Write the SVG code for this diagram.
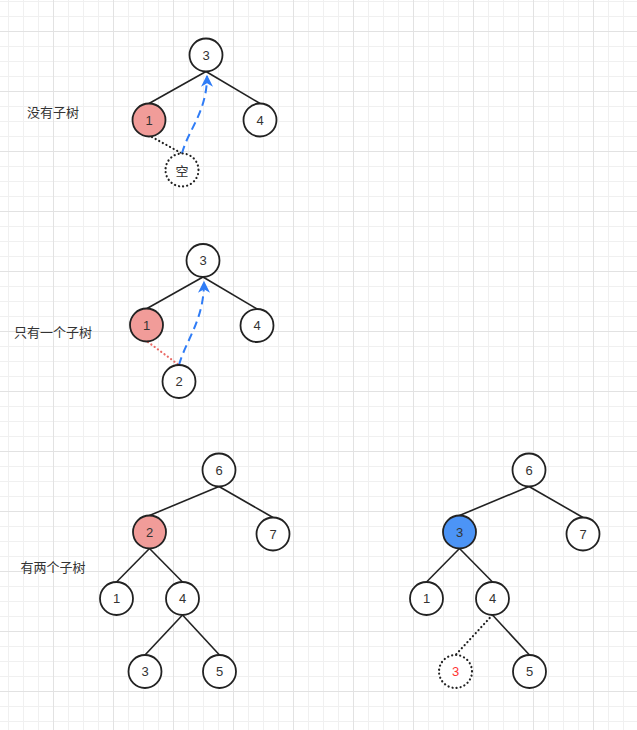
<svg xmlns="http://www.w3.org/2000/svg" width="637" height="730" viewBox="0 0 637 730">
<defs>
<pattern id="minor" width="15" height="15" patternUnits="userSpaceOnUse" x="8" y="1">
<path d="M0.5 0V15M0 0.5H15" stroke="#f0f0f0" stroke-width="1" fill="none"/>
</pattern>
<pattern id="major" width="60" height="60" patternUnits="userSpaceOnUse" x="53" y="31">
<path d="M0.5 0V60M0 0.5H60" stroke="#e2e2e2" stroke-width="1" fill="none"/>
</pattern>
<marker id="arr" viewBox="0 0 10 10" refX="9" refY="5" markerWidth="6" markerHeight="6" orient="auto" markerUnits="strokeWidth">
<path d="M0,0 L10,5 L0,10 L3,5 z" fill="#2f7cf6"/>
</marker>
<style>
.n{fill:#fff;stroke:#222;stroke-width:1.8}
.pink{fill:#f19c99}
.blue{fill:#4c94f6}
.dot{fill:#fff;stroke:#222;stroke-width:2.2;stroke-dasharray:0.1 4;stroke-linecap:round}
.t{font-family:"Liberation Sans","Noto Sans CJK SC",sans-serif;font-size:13px;fill:#333;text-anchor:middle;dominant-baseline:central}
.lbl{font-family:"Noto Sans CJK SC","Liberation Sans",sans-serif;font-size:13px;fill:#333;text-anchor:middle;dominant-baseline:central}
.e{stroke:#222;stroke-width:1.6;fill:none}
.ed{stroke:#222;stroke-width:2.2;fill:none;stroke-dasharray:0.1 4;stroke-linecap:round}
.er{stroke:#ea6b66;stroke-width:2.2;fill:none;stroke-dasharray:0.1 4;stroke-linecap:round}
.eb{stroke:#2f7cf6;stroke-width:2;fill:none;stroke-dasharray:8 5}
</style>
</defs>
<rect width="637" height="730" fill="#fff"/>
<rect width="637" height="730" fill="url(#minor)"/>
<rect width="637" height="730" fill="url(#major)"/>

<g id="labels">
<text class="lbl" x="53" y="111.5">没有子树</text>
<text class="lbl" x="53" y="331.5">只有一个子树</text>
<text class="lbl" x="53" y="566.5">有两个子树</text>
</g>

<g id="connectors">
<line class="e" x1="206" y1="71.5" x2="149" y2="103.5"/>
<line class="e" x1="206" y1="71.5" x2="260" y2="103.5"/>
<line class="ed" x1="152" y1="137" x2="182" y2="153.5"/>
<path class="eb" d="M182,153.5 C188,130 207,112 207,76" marker-end="url(#arr)"/>

<line class="e" x1="203" y1="277" x2="147" y2="308.5"/>
<line class="e" x1="203" y1="277" x2="257" y2="309"/>
<line class="er" x1="148" y1="342" x2="179" y2="365"/>
<path class="eb" d="M179,365 C186,340 204,320 204,282" marker-end="url(#arr)"/>

<line class="e" x1="219" y1="486.5" x2="149.5" y2="515.5"/>
<line class="e" x1="219" y1="486.5" x2="273" y2="517.5"/>
<line class="e" x1="149.5" y1="548.5" x2="116.5" y2="582"/>
<line class="e" x1="149.5" y1="548.5" x2="182.5" y2="582"/>
<line class="e" x1="182.5" y1="615" x2="145" y2="655"/>
<line class="e" x1="182.5" y1="615" x2="219.5" y2="655"/>

<line class="e" x1="529" y1="486.5" x2="459.5" y2="515.5"/>
<line class="e" x1="529" y1="486.5" x2="583" y2="517.5"/>
<line class="e" x1="459.5" y1="548.5" x2="426.5" y2="582"/>
<line class="e" x1="459.5" y1="548.5" x2="492.5" y2="582"/>
<line class="ed" x1="492.5" y1="615" x2="455.5" y2="655"/>
<line class="e" x1="492.5" y1="615" x2="529.5" y2="655"/>
</g>

<g id="t1-3"><circle class="n" cx="206" cy="55" r="16.5"/><text class="t" x="206" y="55">3</text></g>
<g id="t1-1"><circle class="n pink" cx="149" cy="120" r="16.5"/><text class="t" x="149" y="120">1</text></g>
<g id="t1-4"><circle class="n" cx="260" cy="120" r="16.5"/><text class="t" x="260" y="120">4</text></g>
<g id="t1-empty"><circle class="dot" cx="182" cy="170" r="16.5"/><text class="lbl" x="182" y="170">空</text></g>

<g id="t2-3"><circle class="n" cx="203" cy="260.5" r="16.5"/><text class="t" x="203" y="260.5">3</text></g>
<g id="t2-1"><circle class="n pink" cx="146.5" cy="325" r="16.5"/><text class="t" x="146.5" y="325">1</text></g>
<g id="t2-4"><circle class="n" cx="257" cy="325.5" r="16.5"/><text class="t" x="257" y="325.5">4</text></g>
<g id="t2-2"><circle class="n" cx="179" cy="381.5" r="16.5"/><text class="t" x="179" y="381.5">2</text></g>

<g id="t3-6"><circle class="n" cx="219" cy="470" r="16.5"/><text class="t" x="219" y="470">6</text></g>
<g id="t3-2"><circle class="n pink" cx="149.5" cy="532" r="16.5"/><text class="t" x="149.5" y="532">2</text></g>
<g id="t3-7"><circle class="n" cx="273" cy="534" r="16.5"/><text class="t" x="273" y="534">7</text></g>
<g id="t3-1"><circle class="n" cx="116.5" cy="598.5" r="16.5"/><text class="t" x="116.5" y="598.5">1</text></g>
<g id="t3-4"><circle class="n" cx="182.5" cy="598.5" r="16.5"/><text class="t" x="182.5" y="598.5">4</text></g>
<g id="t3-3"><circle class="n" cx="145" cy="671.5" r="16.5"/><text class="t" x="145" y="671.5">3</text></g>
<g id="t3-5"><circle class="n" cx="219.5" cy="671.5" r="16.5"/><text class="t" x="219.5" y="671.5">5</text></g>

<g id="t4-6"><circle class="n" cx="529" cy="470" r="16.5"/><text class="t" x="529" y="470">6</text></g>
<g id="t4-3"><circle class="n blue" cx="459.5" cy="532" r="16.5"/><text class="t" x="459.5" y="532">3</text></g>
<g id="t4-7"><circle class="n" cx="583" cy="534" r="16.5"/><text class="t" x="583" y="534">7</text></g>
<g id="t4-1"><circle class="n" cx="426.5" cy="598.5" r="16.5"/><text class="t" x="426.5" y="598.5">1</text></g>
<g id="t4-4"><circle class="n" cx="492.5" cy="598.5" r="16.5"/><text class="t" x="492.5" y="598.5">4</text></g>
<g id="t4-3dot"><circle class="dot" cx="455.5" cy="671.5" r="16.5"/><text class="t" x="455.5" y="671.5" style="fill:#ff3333">3</text></g>
<g id="t4-5"><circle class="n" cx="529.5" cy="671.5" r="16.5"/><text class="t" x="529.5" y="671.5">5</text></g>
</svg>
